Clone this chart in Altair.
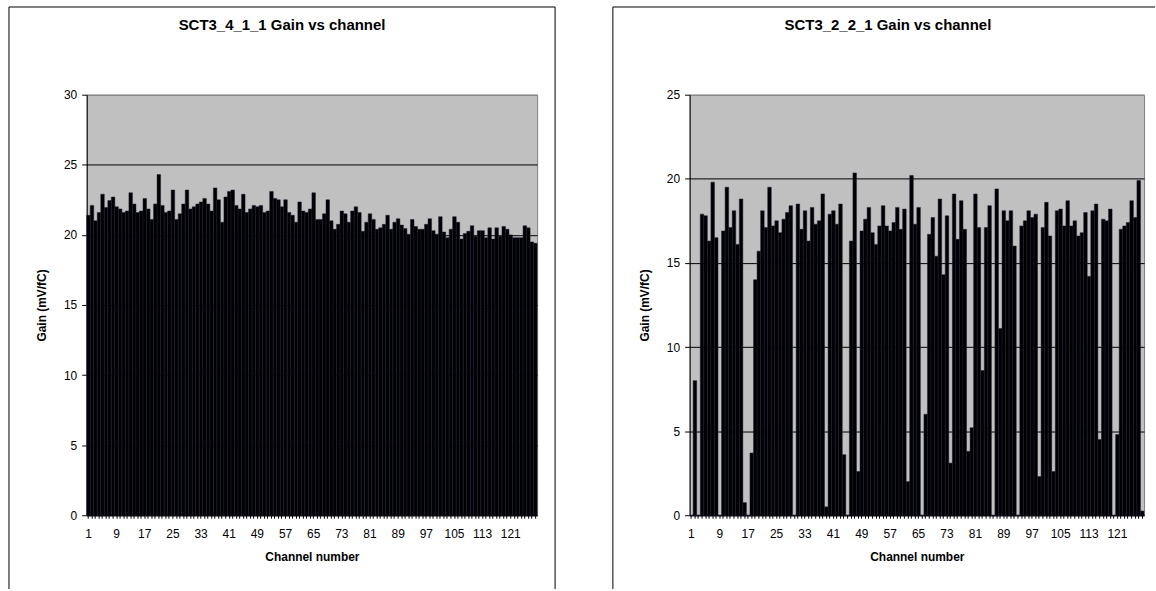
import altair as alt
import pandas as pd

channels = list(range(1, 129))

gain_sct3_4_1_1 = [
    21.4, 22.1, 21.0, 21.6, 22.9, 21.95, 22.45, 22.7, 22.0, 21.85,
    21.6, 21.7, 23.0, 22.2, 21.6, 21.7, 22.6, 21.85, 21.1, 22.2,
    24.3, 22.1, 21.6, 21.7, 23.2, 21.1, 21.5, 22.2, 23.2, 21.85,
    22.0, 22.2, 22.35, 22.6, 22.2, 21.7, 23.35, 22.5, 20.9, 22.7,
    23.1, 23.2, 22.1, 21.85, 22.9, 21.6, 21.85, 22.1, 22.0, 22.1,
    21.6, 21.7, 23.1, 22.6, 22.5, 22.0, 22.5, 21.6, 21.4, 20.9,
    22.35, 21.7, 21.6, 21.85, 23.0, 21.1, 21.1, 21.5, 22.5, 21.0,
    20.4, 20.75, 21.7, 21.5, 20.9, 21.7, 22.0, 21.6, 20.25, 20.9,
    21.5, 21.1, 20.4, 20.5, 20.75, 21.4, 20.4, 20.9, 21.15, 20.7,
    20.45, 20.05, 21.1, 20.6, 20.4, 20.4, 20.75, 21.15, 20.3, 20.05,
    21.3, 20.2, 19.8, 20.4, 21.3, 20.9, 19.7, 20.1, 20.25, 20.65,
    19.9, 20.3, 20.3, 19.8, 20.5, 19.7, 20.5, 19.9, 20.6, 20.4,
    20.0, 19.8, 19.8, 19.8, 20.65, 20.5, 19.5, 19.4,
]

gain_sct3_2_2_1 = [
    0.0, 8.0, 0.0, 17.9, 17.8, 16.3, 19.8, 16.5, 0.0, 16.9,
    19.5, 17.1, 18.1, 16.1, 18.8, 0.75, 0.0, 3.7, 14.0, 15.7,
    18.1, 17.1, 19.5, 17.2, 17.5, 16.8, 17.6, 18.0, 18.4, 0.0,
    18.5, 17.0, 18.1, 16.3, 18.3, 17.3, 17.5, 19.1, 0.5, 17.9,
    18.1, 17.3, 18.5, 3.6, 0.0, 16.3, 20.35, 2.6, 16.9, 17.6,
    18.3, 16.8, 16.1, 17.2, 18.4, 17.2, 16.9, 17.4, 18.3, 17.0,
    18.2, 2.0, 20.2, 17.3, 18.3, 0.0, 6.0, 16.7, 17.7, 15.4,
    18.8, 14.3, 17.8, 3.1, 19.1, 16.4, 18.7, 17.0, 3.8, 5.2,
    19.1, 17.1, 8.6, 17.1, 18.4, 0.0, 19.4, 11.1, 18.1, 17.5,
    18.1, 16.0, 0.0, 17.2, 17.5, 18.1, 17.7, 17.9, 2.3, 17.1,
    18.6, 16.6, 2.6, 18.1, 18.2, 17.2, 18.7, 17.2, 17.5, 16.6,
    16.8, 18.0, 14.2, 18.1, 18.5, 4.5, 17.6, 17.5, 18.2, 0.0,
    4.8, 17.0, 17.2, 17.4, 18.7, 17.7, 19.9, 0.25,
]

left_ticks = [0, 5, 10, 15, 20, 25, 30]
right_ticks = [0, 5, 10, 15, 20, 25]
panel_titles = ["SCT3_4_1_1 Gain vs channel", "SCT3_2_2_1 Gain vs channel"]
x_title = "Channel number"
y_title = "Gain (mV/fC)"

FONT = "Liberation Sans"
PLOT_H = 422


def panel(values, ticks, title, width, frame_left, frame_right, title_x, right_side):
    ymax = ticks[-1]
    df = pd.DataFrame({"channel": channels, "gain": values})
    x = alt.X(
        "channel:O",
        scale=alt.Scale(paddingInner=0, paddingOuter=0),
        axis=alt.Axis(
            title=x_title,
            labelExpr="(datum.value - 1) % 8 == 0 ? datum.label : ''",
            labelAngle=0,
            labelOverlap=False,
            labelFont=FONT,
            labelFontSize=12,
            labelColor="#000000",
            labelPadding=10,
            tickSize=3,
            tickColor="#000000",
            domainColor="#000000",
            titleFont=FONT,
            titleFontSize=12,
            titleFontWeight="bold",
            titleColor="#000000",
            titlePadding=12,
            grid=False,
        ),
    )
    y = alt.Y(
        "gain:Q",
        scale=alt.Scale(domain=[0, ymax], nice=False),
        axis=alt.Axis(
            values=ticks,
            title=y_title,
            grid=True,
            gridColor={"condition": {"test": f"datum.value == {ymax}", "value": "#808080"},
                       "value": "#000000"},
            gridWidth=1,
            labelFont=FONT,
            labelFontSize=12,
            labelColor="#000000",
            labelPadding=5,
            tickSize=5,
            tickColor="#000000",
            domainColor="#000000",
            titleFont=FONT,
            titleFontSize=12,
            titleFontWeight="bold",
            titleColor="#000000",
            titlePadding=15,
        ),
    )
    bars = alt.Chart(df).mark_bar(
        fill="#000000", stroke="#1c1c3a", strokeWidth=0.5
    ).encode(x=x, y=y)

    one = pd.DataFrame({"t": [title]})
    frame_l = alt.Chart(one).mark_rule(color="#000000", strokeWidth=1).encode(
        x=alt.value(frame_left), y=alt.value(-88), y2=alt.value(496)
    )
    frame_t = alt.Chart(one).mark_rule(color="#000000", strokeWidth=1).encode(
        x=alt.value(frame_left), x2=alt.value(frame_right), y=alt.value(-88)
    )
    layers = [frame_l, frame_t]
    if right_side:
        frame_r = alt.Chart(one).mark_rule(color="#000000", strokeWidth=1).encode(
            x=alt.value(frame_right), y=alt.value(-88), y2=alt.value(496)
        )
        layers.append(frame_r)
    head = alt.Chart(one).mark_text(
        font=FONT, fontSize=15, fontWeight="bold", color="#000000",
        align="center", baseline="middle"
    ).encode(x=alt.value(title_x), y=alt.value(-70), text="t:N")
    layers += [bars, head]
    return alt.layer(*layers).properties(width=width, height=PLOT_H)


left = panel(gain_sct3_4_1_1, left_ticks, panel_titles[0], 452, -78, 470, 196, True)
right = panel(gain_sct3_2_2_1, right_ticks, panel_titles[1], 456, -77, 467, 199, False)

chart = alt.hconcat(left, right, spacing=56).properties(
    padding={"left": 8, "top": 5, "right": 0, "bottom": 0},
    background="#ffffff",
).configure_view(fill="#C0C0C0", stroke="#808080", strokeWidth=1)

chart.save("out.html", embed_options={"renderer": "svg", "actions": False})
